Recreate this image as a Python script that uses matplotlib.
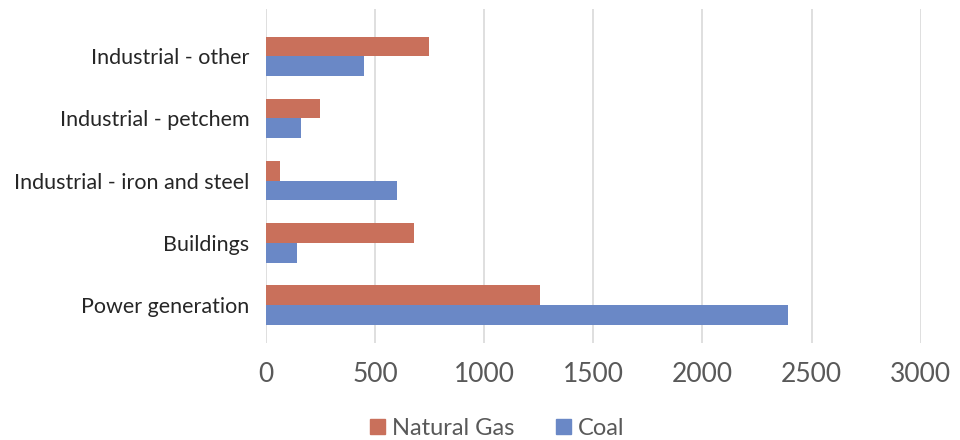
import numpy as np
import matplotlib
matplotlib.use('Agg')
from matplotlib import pyplot as plt
from matplotlib.patches import Patch

categories = ['Power generation', 'Buildings', 'Industrial - iron and steel',
              'Industrial - petchem', 'Industrial - other']
natural_gas = [1258, 677, 64, 250, 745]
coal = [2393, 141, 599, 159, 448]
x_ticks = [0, 500, 1000, 1500, 2000, 2500, 3000]

GAS_COLOR = '#C9705B'
COAL_COLOR = '#6A88C6'
TEXT_COLOR = '#595959'
GRID_COLOR = '#D9D9D9'

plt.rcParams['font.family'] = ['Lato', 'DejaVu Sans']

fig = plt.figure(figsize=(9.6, 4.4), dpi=100)
ax = fig.add_axes([0.277, 0.2205, 0.682, 0.759])

y = np.arange(len(categories))
h = 0.318
ax.barh(y + h / 2, natural_gas, height=h, color=GAS_COLOR, zorder=3)
ax.barh(y - h / 2, coal, height=h, color=COAL_COLOR, zorder=3)

ax.set_xlim(0, 3000)
ax.set_ylim(-0.61, 4.76)
ax.set_xticks(x_ticks)
ax.set_xticklabels([str(t) for t in x_ticks], fontsize=19, color=TEXT_COLOR)
ax.set_yticks(y)
ax.set_yticklabels(categories, fontsize=15.5, color='#262626')
ax.tick_params(axis='both', length=0)
ax.tick_params(axis='x', pad=14)
ax.tick_params(axis='y', pad=12)
ax.xaxis.grid(True, color=GRID_COLOR, linewidth=1.2, zorder=0)
for s in ax.spines.values():
    s.set_visible(False)

handles = [Patch(color=GAS_COLOR, label='Natural Gas'),
           Patch(color=COAL_COLOR, label='Coal')]
leg = fig.legend(handles=handles, loc='center', bbox_to_anchor=(0.518, 0.026),
                 ncol=2, frameon=False, fontsize=17, handlelength=0.6,
                 handleheight=0.6, handletextpad=0.3, columnspacing=1.8,
                 borderpad=0)
for t in leg.get_texts():
    t.set_color(TEXT_COLOR)

fig.savefig('out.png', dpi=100)
